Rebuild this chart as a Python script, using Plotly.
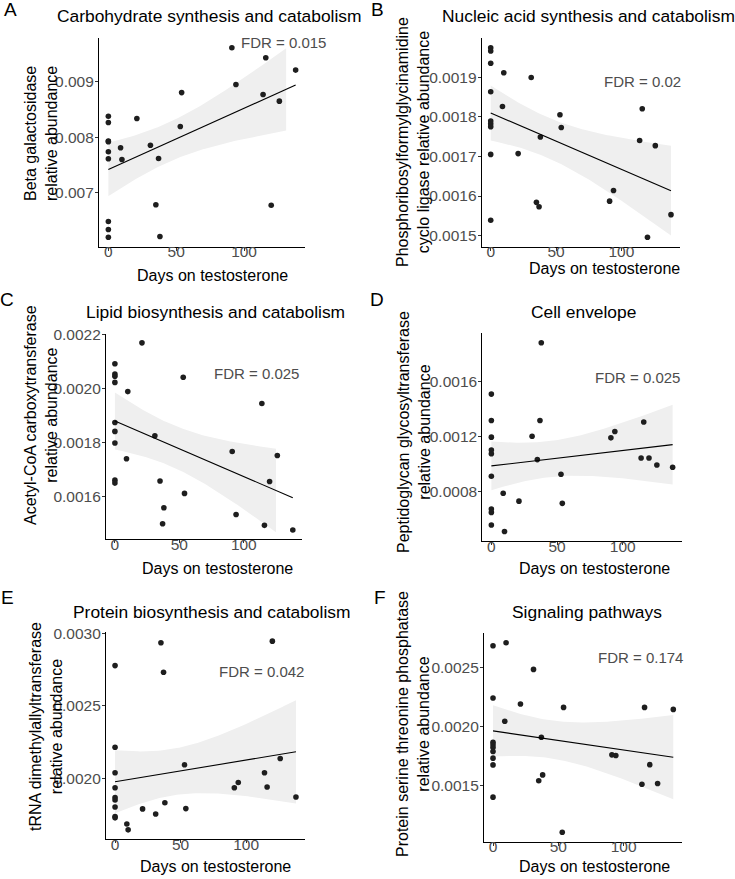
import numpy as np
import plotly.graph_objects as go

W, H = 735, 879

days = [0, 0, 0, 0, 0, 0, 0, 0, 0,
        9, 10, 21, 31, 35, 37, 38, 53, 54, 91, 94, 114, 116, 120, 126, 138]

beta_galactosidase = [0.008377, 0.008264, 0.00793, 0.00792, 0.007738, 0.007612, 0.006486, 0.006342, 0.006204,
                      0.00781, 0.0076, 0.008336, 0.007856, 0.006786, 0.007617, 0.006216, 0.008192, 0.0088,
                      0.009605, 0.008946, 0.008766, 0.009425, 0.006778, 0.008647, 0.009204]

phosphoribosyl = [0.001974, 0.001966, 0.001935, 0.001863, 0.001789, 0.001782, 0.001775, 0.001705, 0.001539,
                  0.001826, 0.001911, 0.001707, 0.001899, 0.001584, 0.001573, 0.001749, 0.001805, 0.001773,
                  0.001587, 0.001614, 0.00174, 0.00182, 0.001496, 0.001727, 0.001553]

acetyl_coa = [0.002092, 0.002054, 0.002046, 0.002023, 0.001875, 0.001842, 0.001799, 0.001662, 0.001651,
              0.001741, 0.001989, 0.002169, 0.001826, 0.001659, 0.001501, 0.00156, 0.002042, 0.001613,
              0.001768, 0.001535, 0.001945, 0.001495, 0.001657, 0.001753, 0.001478]

peptidoglycan = [0.001508, 0.001315, 0.001194, 0.0011, 0.001073, 0.000909, 0.00067, 0.000645, 0.000553,
                 0.000785, 0.000505, 0.000727, 0.001201, 0.00103, 0.001315, 0.001883, 0.000923, 0.000711,
                 0.001189, 0.001235, 0.001042, 0.001305, 0.001042, 0.000991, 0.000974]

trna = [0.002778, 0.002213, 0.002037, 0.001933, 0.001865, 0.001849, 0.0018, 0.001734, 0.001725,
        0.001683, 0.001642, 0.001787, 0.001752, 0.002936, 0.002732, 0.00183, 0.002092, 0.001789,
        0.001933, 0.00197, 0.002037, 0.001938, 0.002947, 0.002135, 0.001869]

phosphatase = [0.002687, 0.002243, 0.001867, 0.001845, 0.001822, 0.001788, 0.001732, 0.001675, 0.001401,
               0.002045, 0.002712, 0.002192, 0.002486, 0.00154, 0.00191, 0.00159, 0.001103, 0.002163,
               0.00176, 0.001754, 0.001511, 0.002163, 0.001677, 0.001517, 0.002146]

# last day covered by the shaded confidence band in each panel
band_end_days = [131, 138, 125, 138, 138, 138]

titles = ["Carbohydrate synthesis and catabolism", "Nucleic acid synthesis and catabolism",
          "Lipid biosynthesis and catabolism", "Cell envelope",
          "Protein biosynthesis and catabolism", "Signaling pathways"]
ytitles = ["Beta galactosidase<br>relative abundance",
           "Phosphoribosylformylglycinamidine<br>cyclo ligase relative abundance",
           "Acetyl-CoA carboxytransferase<br>relative abundance",
           "Peptidoglycan glycosyltransferase<br>relative abundance",
           "tRNA dimethylallyltransferase<br>relative abundance",
           "Protein serine threonine phosphatase<br>relative abundance"]
fdr_labels = ["FDR = 0.015", "FDR = 0.02", "FDR = 0.025", "FDR = 0.025", "FDR = 0.042", "FDR = 0.174"]
letters = ["A", "B", "C", "D", "E", "F"]
series = [beta_galactosidase, phosphoribosyl, acetyl_coa, peptidoglycan, trna, phosphatase]

# layout (pixel geometry)
panels = [
    dict(x0=99, x1=305, y0=38.3, y1=246.7, dtick=0.001, fmt=".3f", title=(209, 16), letter=(10, 10),
         ytitle=(41, 134), xtitle=(212, 275), fdr=(129, 0.009707)),
    dict(x0=481.7, x1=680, y0=38.3, y1=246.7, dtick=0.0001, fmt=".4f", title=(588, 16), letter=(377, 10),
         ytitle=(413, 142), xtitle=(604, 268.5), fdr=(116, 0.00189)),
    dict(x0=106, x1=301.7, y0=333.5, y1=539.3, dtick=0.0002, fmt=".4f", title=(215, 312), letter=(7, 299),
         ytitle=(41, 415), xtitle=(217, 568), fdr=(110, 0.002054)),
    dict(x0=482.3, x1=681.7, y0=333.3, y1=541, dtick=0.0004, fmt=".4f", title=(583, 312), letter=(377, 299),
         ytitle=(414, 432), xtitle=(594, 568), fdr=(111.5, 0.001631)),
    dict(x0=106, x1=305, y0=631.7, y1=839.3, dtick=0.0005, fmt=".4f", title=(211, 612), letter=(7, 597),
         ytitle=(46, 727), xtitle=(215, 866), fdr=(111.7, 0.002736)),
    dict(x0=484, x1=682.3, y0=633.3, y1=841.7, dtick=0.0005, fmt=".4f", title=(587, 612), letter=(380, 597),
         ytitle=(413, 724), xtitle=(594, 866), fdr=(113, 0.002586)),
]


def fx(px):
    return px / W


def fy(py):
    return 1 - py / H


FONT = "Liberation Sans, Arial, sans-serif"
fig = go.Figure()
annotations = []
layout = {}

x = np.array(days, dtype=float)
n = len(x)
tcrit = 2.0687  # t(0.975, df=23)
xs = np.linspace(x.min(), x.max(), 80)
xr = [x.min() - 0.05 * (x.max() - x.min()), x.max() + 0.05 * (x.max() - x.min())]

for i, (yv, p) in enumerate(zip(series, panels)):
    y = np.array(yv)
    k = "" if i == 0 else str(i + 1)
    xa, ya = "x" + k, "y" + k
    b, a = np.polyfit(x, y, 1)
    fit = a + b * xs
    resid = y - (a + b * x)
    s = np.sqrt(np.sum(resid ** 2) / (n - 2))
    sxx = np.sum((x - x.mean()) ** 2)
    xb = np.linspace(x.min(), band_end_days[i], 80)
    se = s * np.sqrt(1 / n + (xb - x.mean()) ** 2 / sxx)
    fb = a + b * xb
    lo, hi = fb - tcrit * se, fb + tcrit * se

    fig.add_trace(go.Scatter(x=np.concatenate([xb, xb[::-1]]), y=np.concatenate([hi, lo[::-1]]),
                             fill="toself", fillcolor="#EFEFEF", line=dict(width=0), mode="lines",
                             hoverinfo="skip", showlegend=False, xaxis=xa, yaxis=ya))
    fig.add_trace(go.Scatter(x=x, y=y, mode="markers", marker=dict(size=5.6, color="#1E1E1E"),
                             showlegend=False, xaxis=xa, yaxis=ya))
    fig.add_trace(go.Scatter(x=xs, y=fit, mode="lines", line=dict(color="black", width=1.1),
                             showlegend=False, xaxis=xa, yaxis=ya))

    yr = [y.min() - 0.05 * (y.max() - y.min()), y.max() + 0.05 * (y.max() - y.min())]

    axcommon = dict(showline=True, linecolor="black", linewidth=1.1, ticks="outside", ticklen=3,
                    tickwidth=1, tickcolor="#333333", showgrid=False, zeroline=False, automargin=False,
                    tickfont=dict(family=FONT, size=15.5, color="#4D4D4D"))
    layout["xaxis" + k] = dict(axcommon, domain=[fx(p["x0"]), fx(p["x1"])], range=xr, dtick=50, tick0=0,
                               anchor=ya, ticklabelstandoff=-12)
    layout["yaxis" + k] = dict(axcommon, domain=[fy(p["y1"]), fy(p["y0"])], range=yr,
                               dtick=p["dtick"], tick0=0, tickformat=p["fmt"], anchor=xa,
                               ticklabelstandoff=-2)

    annotations.append(dict(text=titles[i], x=fx(p["title"][0]), y=fy(p["title"][1]), xref="paper",
                            yref="paper", showarrow=False, xanchor="center", yanchor="middle",
                            font=dict(family=FONT, size=17.4, color="black")))
    annotations.append(dict(text=letters[i], x=fx(p["letter"][0]), y=fy(p["letter"][1]), xref="paper",
                            yref="paper", showarrow=False, xanchor="center", yanchor="middle",
                            font=dict(family=FONT, size=19, color="black")))
    annotations.append(dict(text=ytitles[i], x=fx(p["ytitle"][0]), y=fy(p["ytitle"][1]), xref="paper",
                            yref="paper", showarrow=False, xanchor="center", yanchor="middle", textangle=-90,
                            font=dict(family=FONT, size=16, color="black")))
    annotations.append(dict(text="Days on testosterone", x=fx(p["xtitle"][0]), y=fy(p["xtitle"][1]),
                            xref="paper", yref="paper", showarrow=False, xanchor="center", yanchor="middle",
                            font=dict(family=FONT, size=16, color="black")))
    annotations.append(dict(text=fdr_labels[i], x=p["fdr"][0], y=p["fdr"][1], xref=xa, yref=ya,
                            showarrow=False, xanchor="center", yanchor="middle",
                            font=dict(family=FONT, size=15, color="#4D4D4D")))

fig.update_layout(width=W, height=H, margin=dict(l=0, r=0, t=0, b=0, autoexpand=False),
                  plot_bgcolor="white", paper_bgcolor="white", annotations=annotations,
                  font=dict(family=FONT), **layout)
fig.write_html("out.html", config={"displayModeBar": False},
               post_script=("document.documentElement.style.margin='0';document.body.style.margin='0';"
                            "document.body.style.overflow='hidden';"
                            "var gd=document.querySelector('.plotly-graph-div');"
                            "gd.style.position='fixed';gd.style.top='0';gd.style.left='0';"))
